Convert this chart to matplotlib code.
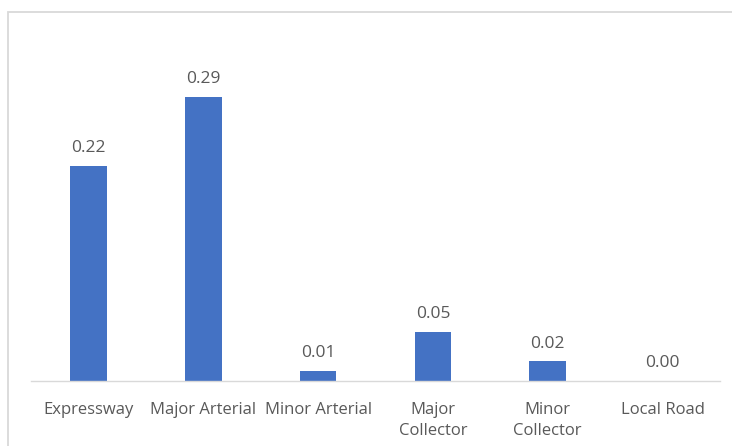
import matplotlib
matplotlib.use("Agg")
import matplotlib.pyplot as plt
from matplotlib.patches import Rectangle

categories = ["Expressway", "Major Arterial", "Minor Arterial",
              "Major\nCollector", "Minor\nCollector", "Local Road"]
values = [0.22, 0.29, 0.01, 0.05, 0.02, 0.00]

W, H = 732, 446
fig = plt.figure(figsize=(W / 100, H / 100), dpi=100)
plt.rcParams['font.family'] = ['Open Sans', 'DejaVu Sans']

# chart area border (left and top edges visible)
fig.patches.append(Rectangle((8 / W, -0.05), 1.1, (H - 12) / H + 0.05,
                             transform=fig.transFigure, fill=False,
                             edgecolor="#d9d9d9", linewidth=1.3))

left, right = 31 / W, 720 / W
bottom = (H - 381) / H
top = (H - 30) / H
ax = fig.add_axes([left, bottom, right - left, top - bottom])

x = range(len(categories))
ax.bar(x, values, width=0.32, color="#4472C4")
ax.set_xlim(-0.5, len(categories) - 0.5)
ax.set_ylim(0, 351 / 979)

for xi, v in zip(x, values):
    ax.annotate(f"{v:.2f}", (xi, v), xytext=(0, 7), textcoords="offset points",
                ha="center", va="bottom", fontsize=12.5, color="#595959")

ax.set_xticks(list(x))
ax.set_xticklabels(categories, fontsize=12, color="#595959", linespacing=1.45)
ax.tick_params(axis="x", length=0, pad=15)
ax.set_yticks([])
for s in ["top", "right", "left"]:
    ax.spines[s].set_visible(False)
ax.spines["bottom"].set_color("#d9d9d9")
ax.spines["bottom"].set_linewidth(1.0)

fig.savefig("out.png", dpi=100)
